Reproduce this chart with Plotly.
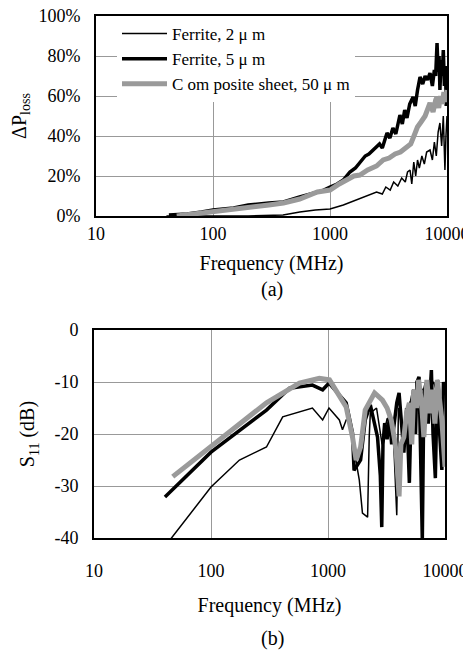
import plotly.graph_objects as go

# ---------------- (a) Delta P_loss (%) ----------------
f2_a = [40, 100, 200, 397, 552, 750, 1000, 1300, 1600, 1900, 2190, 2500, 2800, 3000, 3270, 3500,
        3800, 4100, 4400, 4600, 4830, 5000, 5200, 5400, 5600, 5800, 6100, 6400, 6700, 7160, 7500,
        7800, 8100, 8400, 8700, 9000, 9300, 9600, 9800, 10000]
p2_a = [0, 0, 0, 0.5, 2, 3, 3.5, 5.5, 7.5, 9, 10.5, 12, 11, 14.5, 13, 17,
        15, 19, 17, 22, 23, 16, 27, 20, 28, 24, 30, 26, 32, 33, 28,
        37, 30, 42, 46.5, 35, 50, 23, 40, 50]

f5_a = [42, 60, 80, 100, 150, 200, 300, 400, 550, 700, 850, 1000, 1150, 1300, 1480, 1650, 1800,
        2000, 2150, 2330, 2500, 2650, 2800, 3070, 3250, 3450, 3650, 3960, 4150, 4350, 4550, 4800,
        5130, 5350, 5600, 5880, 6200, 6500, 6800, 7160, 7500, 7800, 8000, 8220, 8400, 8550, 8700,
        8900, 9100, 9300, 9500, 9700, 9850, 10000]
p5_a = [0.5, 1, 2, 3, 4, 5.5, 6.5, 7, 9.5, 11, 12.5, 14.5, 16, 18, 22, 24, 27,
        30, 31, 33, 35, 36, 34, 41.5, 39, 44, 41, 50.5, 46, 53, 49, 56,
        59.5, 55, 63, 69.5, 66, 70, 68, 71.5, 65, 73, 70, 86.5, 72, 80, 63,
        78, 70, 83, 65, 75, 55, 60]

fc_a = [49, 70, 100, 150, 207, 300, 400, 550, 780, 1000, 1200, 1400, 1600, 1800, 2100, 2500,
        2850, 3200, 3600, 4000, 4530, 4900, 5300, 5590, 6000, 6500, 7160, 7600, 8000, 8220, 8500,
        8800, 9100, 9400, 9700, 10000]
pc_a = [0, 1, 2, 3, 4.5, 5.5, 6.5, 8.5, 12, 13, 16, 18.5, 20, 20.5, 23, 25,
        28, 29, 31, 32, 34.5, 36, 41, 44.5, 47, 50, 56.5, 52, 58, 59.5, 54,
        60, 56, 62, 57, 63]

# ---------------- (b) S11 (dB) ----------------
f2_b = [44.5, 100, 175, 298, 410, 570, 736, 900, 1020, 1250, 1330, 1430, 1520, 1670, 1850, 1970,
        2180, 2250, 2300, 2600, 2900, 3200, 3600, 3870, 4000, 4400, 5000, 5500, 6000, 7000, 8000,
        9000, 10000]
s2_b = [-40.4, -30.2, -25, -22.5, -16.7, -15.8, -15, -17.3, -15, -17.3, -19.2, -17.3, -17.3, -23, -28.8, -35.2,
        -36, -20.6, -16, -15, -22, -17, -19, -35.6, -15, -20, -14, -12, -11, -12, -10,
        -14, -12]

f5_b = [40.4, 100, 298, 469, 736, 900, 1020, 1430, 1620, 1670, 1900, 2080, 2300, 2450, 2650, 2800,
        2880, 2950, 3050, 3200, 3350, 3500, 3690, 3870, 4050, 4200, 4450, 4700, 4960, 5150, 5400,
        5600, 5750, 6000, 6200, 6400, 6600, 6900, 7200, 7650, 7900, 8270, 8600, 8900, 9400, 9700,
        10000]
s5_b = [-32.1, -23.5, -15.4, -11.2, -10.6, -11.5, -10.2, -14, -19.8, -27, -25, -17.3, -14.4, -17, -20.6, -28,
        -37.9, -22, -17.9, -21, -16.7, -22, -17.9, -14, -12.1, -16, -23.6, -15, -29.4, -14, -11.5,
        -20, -10, -9, -25, -40.4, -12, -10.2, -18, -7.7, -20, -28.5, -9.6, -18, -26.9, -10,
        -11.5]

fc_b = [47.1, 100, 298, 570, 843, 1030, 1430, 1620, 1740, 1900, 2080, 2500, 2920, 3200, 3470, 3700,
        3830, 3950, 4050, 4200, 4450, 4700, 4960, 5200, 5400, 5700, 5950, 6300, 6600, 7000, 7400,
        7800, 8200, 8600, 9000, 9400, 10000]
sc_b = [-28.2, -22.5, -14, -10.2, -9.3, -9.6, -14.8, -20.6, -25, -22.5, -15.4, -12.1, -13.5, -15, -17.3, -21,
        -23.6, -28, -32, -22, -20.6, -16, -14, -22, -11.5, -15, -9.6, -14, -20.6, -9.6, -16,
        -11.5, -18, -9.6, -13, -17.3, -26.3]

names = ["Ferrite, 2 μ m", "Ferrite, 5 μ m", "C om posite sheet, 50 μ m"]
x_ticks = [10, 100, 1000, 10000]
x_text = ["10", "100", "1000", "10000"]
pa_ticks = [0, 20, 40, 60, 80, 100]
pa_text = ["0%", "20%", "40%", "60%", "80%", "100%"]
sb_ticks = [0, -10, -20, -30, -40]
sb_text = ["0", "-10", "-20", "-30", "-40"]

styles = [dict(color="black", width=1.5), dict(color="black", width=3.5), dict(color="#9a9a9a", width=5)]

fig = go.Figure()
for fx, py, nm, st in zip([f2_a, f5_a, fc_a], [p2_a, p5_a, pc_a], names, styles):
    fig.add_trace(go.Scatter(x=fx, y=py, mode="lines", name=nm, line=st, xaxis="x", yaxis="y"))
for fx, py, nm, st in zip([f2_b, f5_b, fc_b], [s2_b, s5_b, sc_b], names, styles):
    fig.add_trace(go.Scatter(x=fx, y=py, mode="lines", name=nm, line=st, xaxis="x2", yaxis="y2",
                             showlegend=False))

W, H = 471, 650
OFF = 8  # page body margin offset
def px(x):
    return (x - OFF) / W
def py_(y):
    return 1 - (y - OFF) / H

serif = "Liberation Serif, Times New Roman, serif"
tickfont = dict(family=serif, size=18, color="black")
titlefont = dict(family=serif, size=20, color="black")

common_x = dict(type="log", range=[1, 4], tickmode="array", tickvals=x_ticks, ticktext=x_text,
                showgrid=True, gridcolor="#999999", gridwidth=1, showline=True, linecolor="black",
                linewidth=2, mirror=True, ticks="", tickfont=tickfont, zeroline=False, automargin=False,
                ticklabeloverflow="allow")
common_y = dict(showgrid=True, gridcolor="#999999", gridwidth=1, showline=True, linecolor="black",
                linewidth=2, mirror=True, ticks="", tickfont=tickfont, zeroline=False, automargin=False,
                tickmode="array", ticklabeloverflow="allow")

fig.update_layout(
    template="none",
    width=W, height=H,
    margin=dict(l=0, r=0, t=0, b=0, pad=0),
    paper_bgcolor="white", plot_bgcolor="white",
    font=dict(family=serif, color="black"),
    showlegend=True,
    xaxis=dict(**common_x, domain=[px(96), px(447)], anchor="y", ticklabelstandoff=0,
               title=dict(text="Frequency (MHz)", font=titlefont, standoff=13)),
    yaxis=dict(**common_y, domain=[py_(216), py_(16)], anchor="x", range=[0, 100],
               tickvals=pa_ticks, ticktext=pa_text, ticklabelstandoff=10,
               title=dict(text="ΔP<sub>loss</sub>", font=titlefont, standoff=16)),
    xaxis2=dict(**common_x, domain=[px(94), px(445)], anchor="y2", ticklabelstandoff=15,
                title=dict(text="Frequency (MHz)", font=titlefont, standoff=18)),
    yaxis2=dict(**common_y, domain=[py_(538), py_(330)], anchor="x2", range=[-40, 0],
                tickvals=sb_ticks, ticktext=sb_text, ticklabelstandoff=10,
                title=dict(text="S<sub>11</sub> (dB)", font=titlefont, standoff=14)),
    legend=dict(x=px(117), y=py_(16), xanchor="left", yanchor="top", bgcolor="white",
                borderwidth=0, font=dict(family=serif, size=17, color="black"),
                itemwidth=45, tracegroupgap=0),
    annotations=[
        dict(text="(a)", x=px(272), y=py_(290), xref="paper", yref="paper", showarrow=False,
             xanchor="center", yanchor="middle", font=titlefont),
        dict(text="(b)", x=px(272), y=py_(638), xref="paper", yref="paper", showarrow=False,
             xanchor="center", yanchor="middle", font=titlefont),
    ],
)

fig.write_html("out.html")
